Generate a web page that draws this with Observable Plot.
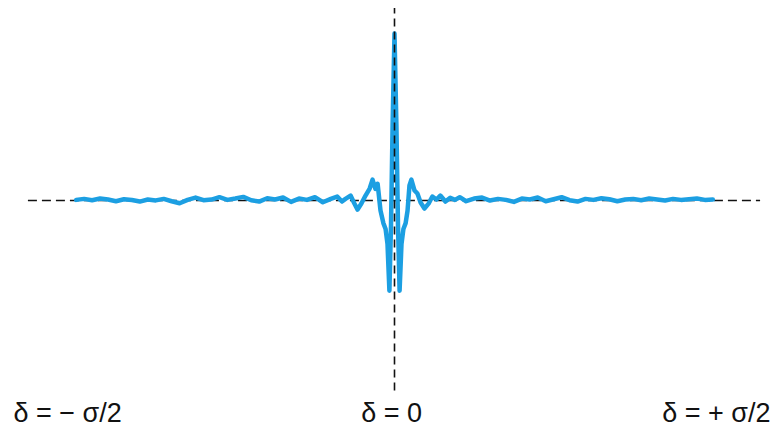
<!DOCTYPE html>
<html><head><meta charset="utf-8">
<script src="https://cdn.jsdelivr.net/npm/d3@7"></script>
<script src="https://cdn.jsdelivr.net/npm/@observablehq/plot@0.6"></script>
<style>body{margin:0;background:#fff}</style>
</head><body><div id="chart"></div>
<script>
// optical path difference (in units of σ/2) and interferogram amplitude
const delta = [
 -1.000,-0.975,-0.950,-0.925,-0.900,-0.875,-0.850,-0.825,-0.800,-0.775,
 -0.750,-0.725,-0.700,-0.675,-0.650,-0.625,-0.600,-0.575,-0.550,-0.525,
 -0.500,-0.475,-0.450,-0.425,-0.400,-0.375,-0.350,-0.325,-0.300,-0.275,
 -0.250,-0.225,-0.200,-0.180,-0.165,-0.154,-0.138,-0.126,-0.116,-0.104,
 -0.091,-0.078,-0.069,-0.060,-0.053,-0.044,-0.035,-0.028,-0.022,-0.016,
 -0.011,-0.006,0.000,0.006,0.011,0.016,0.022,0.028,0.035,0.041,
 0.047,0.053,0.063,0.072,0.082,0.094,0.107,0.119,0.132,0.144,
 0.160,0.175,0.190,0.205,0.225,0.250,0.275,0.300,0.325,0.350,
 0.375,0.400,0.425,0.450,0.475,0.500,0.525,0.550,0.575,0.600,
 0.625,0.650,0.675,0.700,0.725,0.750,0.775,0.800,0.825,0.850,
 0.875,0.900,0.925,0.950,0.975,1.000
];
const signal = [
 0.004,0.010,0.002,0.012,0.006,-0.004,0.008,0.003,-0.006,0.006,
 0.001,0.010,-0.004,-0.016,0.004,0.018,0.002,0.006,0.020,0.004,
 0.012,0.022,0.002,-0.006,0.014,0.006,0.018,-0.008,0.012,0.004,
 0.020,-0.010,0.010,0.024,-0.006,0.010,0.030,-0.018,-0.054,-0.018,
 0.030,0.072,0.125,0.070,0.100,-0.060,-0.135,-0.170,-0.260,-0.540,
 -0.150,0.450,1.000,0.450,-0.150,-0.540,-0.260,-0.170,-0.135,-0.060,
 0.090,0.125,0.060,0.042,-0.012,-0.048,-0.018,0.024,0.006,0.030,
 -0.006,0.016,0.004,0.020,-0.004,0.012,0.018,0.000,0.010,0.004,
 -0.008,0.012,0.006,0.018,-0.004,0.008,0.020,0.002,-0.006,0.010,
 0.004,0.014,0.008,-0.004,0.006,0.010,0.002,0.012,0.006,0.000,
 0.010,0.004,0.008,0.012,0.004,0.006
];
const labelText = ["δ = − σ/2", "δ = 0", "δ = + σ/2"];
const labelPos = [-1.027, -0.009, 1.011];
const labelLevel = [-1.275, -1.275, -1.275];
const hAxisExtent = [-1.15, 1.15];
const vAxisExtent = [-1.14, 1.15];

const pts = delta.map((d, i) => ({d, s: signal[i]}));
const labels = labelText.map((t, i) => ({t, x: labelPos[i], y: labelLevel[i]}));

const chart = Plot.plot({
  width: 776, height: 428,
  marginLeft: 12, marginRight: 0, marginTop: 0, marginBottom: 0,
  x: {domain: [-1.2, 1.2], axis: null},
  y: {domain: [-1.365, 1.198], axis: null},
  style: {background: "#fff"},
  marks: [
    Plot.ruleY([0], {x1: hAxisExtent[0], x2: hAxisExtent[1], stroke: "#111", strokeWidth: 1.6, strokeDasharray: "9,5"}),
    Plot.line(pts, {x: "d", y: "s", stroke: "#1c9fe2", strokeWidth: 4.5, strokeLinejoin: "round", strokeLinecap: "round"}),
    Plot.ruleX([0], {y1: vAxisExtent[0], y2: vAxisExtent[1], stroke: "#111", strokeWidth: 1.6, strokeDasharray: "8,5"}),
    Plot.text(labels, {x: "x", y: "y", text: "t", fontSize: 27, fontFamily: "Liberation Sans", fill: "#111", textAnchor: "middle"})
  ]
});
document.getElementById("chart").append(chart);
</script>
</body></html>
